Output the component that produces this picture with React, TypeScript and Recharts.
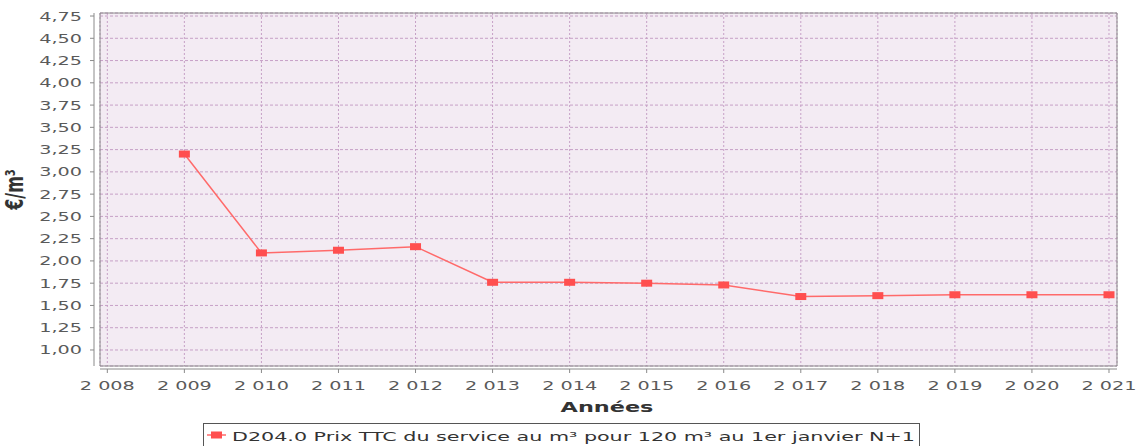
import { CartesianGrid, Line, LineChart, ReferenceArea, XAxis, YAxis } from 'recharts';

const years = [2009, 2010, 2011, 2012, 2013, 2014, 2015, 2016, 2017, 2018, 2019, 2020, 2021];
const prices = [3.2, 2.09, 2.12, 2.16, 1.76, 1.76, 1.75, 1.73, 1.6, 1.61, 1.62, 1.62, 1.62];
const xTicks = [2008, 2009, 2010, 2011, 2012, 2013, 2014, 2015, 2016, 2017, 2018, 2019, 2020, 2021];
const yTicks = [1, 1.25, 1.5, 1.75, 2, 2.25, 2.5, 2.75, 3, 3.25, 3.5, 3.75, 4, 4.25, 4.5, 4.75];
const seriesName = 'D204.0 Prix TTC du service au m³ pour 120 m³ au 1er janvier N+1';
const yLabel = '€/m³';
const xLabel = 'Années';

const X_DOMAIN: [number, number] = [2007.905, 2021.104];
const Y_DOMAIN: [number, number] = [0.82, 4.784];

const FONT = '"DejaVu Sans", sans-serif';
const STRETCH = 1.6;
const LINE_RED = '#ff6a6a';
const MARK_RED = '#ff4f4f';
const AXIS_GREY = '#8a8a8a';
const GRID = '#c6a0c6';

const data = years.map((year, i) => ({ year, value: prices[i] }));

const fmtY = (v: number) => v.toFixed(2).replace('.', ',');
const fmtX = (v: number) => `${String(v).slice(0, 1)} ${String(v).slice(1)}`;

function YTick(props: any) {
  const { y, payload } = props;
  return (
    <g>
      <line x1={90} x2={94} y1={y} y2={y} stroke={AXIS_GREY} />
      <g transform={`translate(82,${y + 4.5}) scale(${STRETCH},1)`}>
        <text textAnchor="end" fontFamily={FONT} fontSize={12} fill="#5a5a5a">
          {fmtY(payload.value)}
        </text>
      </g>
    </g>
  );
}

function XTick(props: any) {
  const { x, payload } = props;
  return (
    <g>
      <line x1={x} x2={x} y1={369} y2={373} stroke={AXIS_GREY} />
      <g transform={`translate(${x},390) scale(${STRETCH},1)`}>
        <text textAnchor="middle" fontFamily={FONT} fontSize={12} fill="#5a5a5a">
          {fmtX(payload.value)}
        </text>
      </g>
    </g>
  );
}

function YAxisDecor(props: any) {
  const vb = props.viewBox || {};
  const right = vb.x + vb.width;
  return (
    <g>
      <line x1={right - 6} x2={right - 6} y1={vb.y} y2={vb.y + vb.height} stroke={AXIS_GREY} />
      <g transform={`translate(23,${vb.y + vb.height / 2}) scale(${STRETCH},1) rotate(-90)`}>
        <text textAnchor="middle" fontFamily={FONT} fontSize={16} fontWeight="bold" fill="#333">
          {yLabel}
        </text>
      </g>
    </g>
  );
}

function XAxisDecor(props: any) {
  const vb = props.viewBox || {};
  return (
    <g>
      <line x1={vb.x} x2={vb.x + vb.width} y1={vb.y + 3} y2={vb.y + 3} stroke={AXIS_GREY} />
      <g transform={`translate(607,412) scale(${STRETCH},1)`}>
        <text textAnchor="middle" fontFamily={FONT} fontSize={14} fontWeight="bold" fill="#333">
          {xLabel}
        </text>
      </g>
    </g>
  );
}

function SquareDot(props: any) {
  const { cx, cy } = props;
  if (cx == null || cy == null) return null;
  return <rect x={cx - 5.5} y={cy - 3.5} width={11} height={7} fill={MARK_RED} />;
}

export default function App() {
  return (
    <div style={{ position: 'absolute', left: 0, top: 0, width: 1138, height: 446, background: '#fff', overflow: 'hidden' }}>
      <LineChart width={1138} height={446} data={data} margin={{ top: 13, right: 21, bottom: 0, left: 0 }}>
        <CartesianGrid fill="#f3ebf3" vertical={false} stroke={GRID} strokeDasharray="3 2" />
        <CartesianGrid horizontal={false} stroke={GRID} strokeDasharray="2 2" />
        <ReferenceArea
          x1={X_DOMAIN[0]}
          x2={X_DOMAIN[1]}
          y1={Y_DOMAIN[0]}
          y2={Y_DOMAIN[1]}
          fill="none"
          stroke={AXIS_GREY}
          strokeWidth={1}
        />
        <XAxis
          type="number"
          dataKey="year"
          domain={X_DOMAIN}
          ticks={xTicks}
          allowDataOverflow
          height={80}
          axisLine={false}
          tickLine={false}
          tick={<XTick />}
          interval={0}
          label={<XAxisDecor />}
        />
        <YAxis
          type="number"
          domain={Y_DOMAIN}
          ticks={yTicks}
          allowDataOverflow
          width={100}
          axisLine={false}
          tickLine={false}
          tick={<YTick />}
          interval={0}
          label={<YAxisDecor />}
        />
        <Line
          type="linear"
          dataKey="value"
          stroke={LINE_RED}
          strokeWidth={1.5}
          dot={<SquareDot />}
          activeDot={false}
          isAnimationActive={false}
        />
      </LineChart>
      <svg width={1138} height={30} style={{ position: 'absolute', left: 0, top: 416 }}>
        <rect x={203.5} y={7.5} width={716} height={30} fill="#fff" stroke="#555" />
        <line x1={207} x2={226} y1={19} y2={19} stroke={LINE_RED} strokeWidth={1.5} />
        <rect x={211} y={15.5} width={11} height={7} fill={MARK_RED} />
        <text x={232} y={25} fontFamily={FONT} fontSize={13} fill="#333" textLength={683} lengthAdjust="spacingAndGlyphs">
          {seriesName}
        </text>
      </svg>
    </div>
  );
}
